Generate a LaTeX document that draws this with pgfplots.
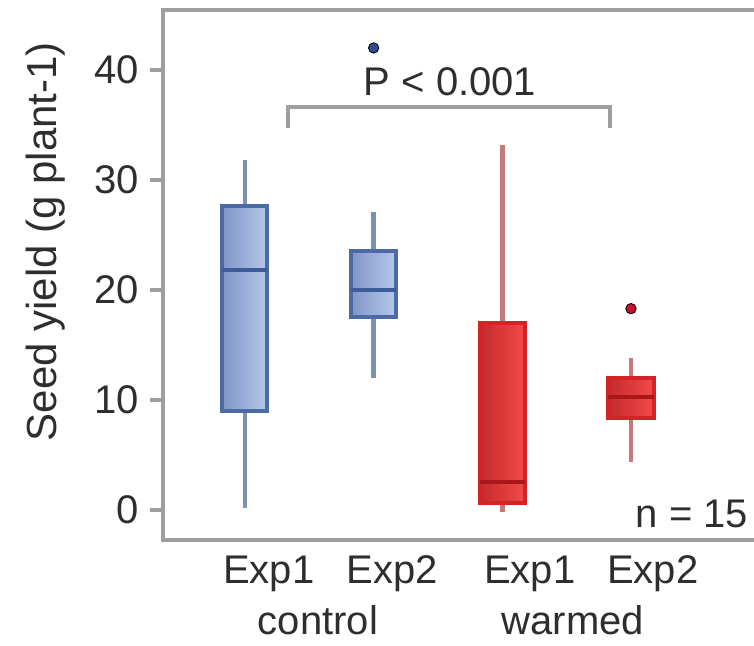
\documentclass[border=0pt]{standalone}
\usepackage{fontspec}
\setmainfont{Liberation Sans}
\usepackage{pgfplots}
\pgfplotsset{compat=1.18}
\usepgfplotslibrary{statistics}

\definecolor{frame}{HTML}{9E9E9E}
\definecolor{txt}{HTML}{2E2E2E}
\definecolor{bluedark}{HTML}{7F96C6}
\definecolor{bluelight}{HTML}{B6C8EA}
\definecolor{blueedge}{HTML}{4C6AA6}
\definecolor{bluemed}{HTML}{3E5C9A}
\definecolor{bluewhisk}{HTML}{7D8FB5}
\definecolor{bluedot}{HTML}{2F4B8F}
\definecolor{reddark}{HTML}{C42A2A}
\definecolor{redlight}{HTML}{F24A4A}
\definecolor{rededge}{HTML}{D22424}
\definecolor{redmed}{HTML}{A81818}
\definecolor{redwhisk}{HTML}{C47A7A}
\definecolor{reddot}{HTML}{C8102E}

\newcommand{\bigfont}{\fontsize{20}{24}\selectfont}

\pgfplotsset{
  ctrl/.style={
    boxplot/draw direction=y,
    boxplot/box extend=0.35,
    boxplot/whisker extend=0,
    boxplot/every box/.style={draw=blueedge, line width=2pt, left color=bluedark, right color=bluelight},
    boxplot/every median/.style={draw=bluemed, line width=2pt},
    boxplot/every whisker/.style={draw=bluewhisk, line width=2.4pt},
    mark=*, mark size=2.6pt, mark options={fill=bluedot, draw=none},
  },
  warm/.style={
    boxplot/draw direction=y,
    boxplot/box extend=0.35,
    boxplot/whisker extend=0,
    boxplot/every box/.style={draw=rededge, line width=2pt, left color=reddark, right color=redlight},
    boxplot/every median/.style={draw=redmed, line width=2pt},
    boxplot/every whisker/.style={draw=redwhisk, line width=2.4pt},
    mark=*, mark size=2.6pt, mark options={fill=reddot, draw=none},
  },
}

\begin{document}
\begin{tikzpicture}
\useasboundingbox (0,0) rectangle (377pt,323pt);
\begin{axis}[
  at={(81.5pt,53pt)}, anchor=south west,
  scale only axis, width=295.5pt, height=265pt,
  xmin=0.363, xmax=4.956, ymin=-2.727, ymax=45.45,
  axis line style={draw=none},
  xtick=\empty,
  ytick={0,10,20,30,40},
  ytick pos=left,
  tick align=outside,
  major tick length=6.5pt,
  tick style={draw=frame, line width=2pt},
  /pgf/number format/assume math mode=true,
  yticklabel style={font=\bigfont, text=txt, xshift=-2pt},
  clip=false,
]
% control, Exp1
\addplot[ctrl, boxplot prepared={draw position=1,
  lower whisker=0.2, lower quartile=9.0, median=21.8,
  upper quartile=27.6, upper whisker=31.8}] coordinates {};
% control, Exp2
\addplot[ctrl, boxplot prepared={draw position=2,
  lower whisker=12.0, lower quartile=17.5, median=20.0,
  upper quartile=23.5, upper whisker=27.1}] coordinates {(0,42.0)};
% warmed, Exp1
\addplot[warm, boxplot prepared={draw position=3,
  lower whisker=-0.2, lower quartile=0.6, median=2.5,
  upper quartile=17.0, upper whisker=33.2}] coordinates {};
% warmed, Exp2
\addplot[warm, boxplot prepared={draw position=4,
  lower whisker=4.4, lower quartile=8.4, median=10.3,
  upper quartile=12.0, upper whisker=13.8}] coordinates {(0,18.3)};

% frame: left, top and bottom
\draw[frame, line width=2pt, line join=miter]
  (rel axis cs:1,1) -- (rel axis cs:0,1) -- (rel axis cs:0,0) -- (rel axis cs:1,0);

% significance bracket
\draw[frame, line width=2pt]
  (axis cs:1.334,34.7) -- (axis cs:1.334,36.6) -- (axis cs:3.836,36.6) -- (axis cs:3.836,34.7);
\node[font=\bigfont, text=txt] at (axis cs:2.593,38.9) {P < 0.001};
\node[font=\bigfont, text=txt] at (axis cs:4.473,-0.4) {n = 15};

% group labels
\node[font=\bigfont, text=txt, anchor=base] at (axis cs:1.186,-6.64) {Exp1};
\node[font=\bigfont, text=txt, anchor=base] at (axis cs:2.142,-6.64) {Exp2};
\node[font=\bigfont, text=txt, anchor=base] at (axis cs:3.214,-6.64) {Exp1};
\node[font=\bigfont, text=txt, anchor=base] at (axis cs:4.170,-6.64) {Exp2};
\node[font=\bigfont, text=txt, anchor=base] at (axis cs:1.567,-11.36) {control};
\node[font=\bigfont, text=txt, anchor=base] at (axis cs:3.549,-11.36) {warmed};

% y-axis title
\node[font=\fontsize{21}{25}\selectfont, text=txt, rotate=90] at (axis cs:-0.546,24.4) {Seed yield (g plant-1)};
\end{axis}
\end{tikzpicture}
\end{document}
